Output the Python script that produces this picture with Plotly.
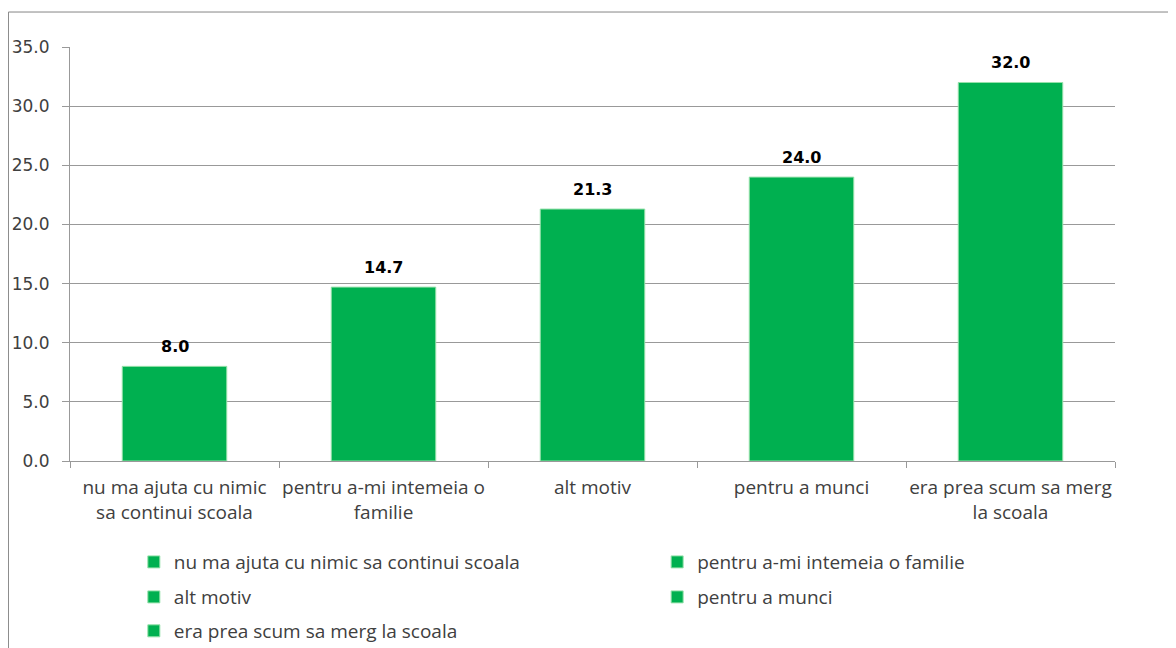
import plotly.graph_objects as go

# Values
categories = [
    "nu ma ajuta cu nimic sa continui scoala",
    "pentru a-mi intemeia o familie",
    "alt motiv",
    "pentru a munci",
    "era prea scum sa merg la scoala",
]
tick_labels = [
    "nu ma ajuta cu nimic<br>sa continui scoala",
    "pentru a-mi intemeia o<br>familie",
    "alt motiv",
    "pentru a munci",
    "era prea scum sa merg<br>la scoala",
]
values = [8.0, 14.7, 21.3, 24.0, 32.0]
y_ticks = [0, 5, 10, 15, 20, 25, 30, 35]

green = "rgb(0,176,80)"
grey = "#999999"
text_grey = "#404040"

# legend slots (two columns, three rows) in container coordinates
legend_x = [0.107, 0.552, 0.107, 0.552, 0.107]
legend_y = [0.145, 0.145, 0.091, 0.091, 0.0386]
legend_ids = ["legend", "legend2", "legend3", "legend4", "legend5"]

fig = go.Figure()
for cat, val, lid in zip(categories, values, legend_ids):
    fig.add_trace(go.Bar(
        x=[cat],
        y=[val],
        name=cat,
        width=0.5,
        legend=lid,
        marker=dict(color=green, line=dict(color="rgb(150,225,170)", width=1)),
    ))
    # value label above each bar
    fig.add_annotation(
        x=cat, y=val, text=f"{val:.1f}",
        showarrow=False, yanchor="bottom", yshift=8,
        font=dict(family="DejaVu Sans", size=16, color="black", weight="bold"),
    )

layout_legends = {}
for lid, lx, ly in zip(legend_ids, legend_x, legend_y):
    layout_legends[lid] = dict(
        xref="container", yref="container",
        x=lx, xanchor="left",
        y=ly, yanchor="middle",
        bgcolor="rgba(0,0,0,0)",
        font=dict(family="Open Sans", size=19, color=text_grey),
        itemwidth=30,
    )

fig.update_layout(
    width=1176,
    height=648,
    barmode="overlay",
    plot_bgcolor="white",
    paper_bgcolor="white",
    margin=dict(l=62, r=69, t=39, b=195, autoexpand=False),
    showlegend=True,
    font=dict(family="Open Sans", color=text_grey),
    **layout_legends,
)

fig.update_xaxes(
    tickvals=categories,
    ticktext=tick_labels,
    tickangle=0,
    tickson="boundaries",
    ticks="outside",
    ticklen=6,
    tickcolor=grey,
    ticklabelstandoff=9,
    showline=True,
    linecolor=grey,
    linewidth=1,
    tickfont=dict(family="Open Sans", size=19, color=text_grey),
    showgrid=False,
    automargin=False,
)

fig.update_yaxes(
    range=[0, 35],
    tickvals=y_ticks,
    tickformat=".1f",
    ticks="outside",
    ticklen=7,
    tickcolor=grey,
    ticklabelstandoff=9,
    showline=True,
    linecolor=grey,
    gridcolor=grey,
    gridwidth=1,
    zeroline=False,
    tickfont=dict(family="DejaVu Sans", size=17, color=text_grey),
    automargin=False,
)

# outer chart border
fig.add_shape(
    type="rect", xref="paper", yref="paper",
    x0=-0.0589, x1=1.1, y0=-0.6, y1=1.0845,
    line=dict(color="#868686", width=1),
    fillcolor="rgba(0,0,0,0)",
    layer="below",
)

fig.write_html("out.html")
